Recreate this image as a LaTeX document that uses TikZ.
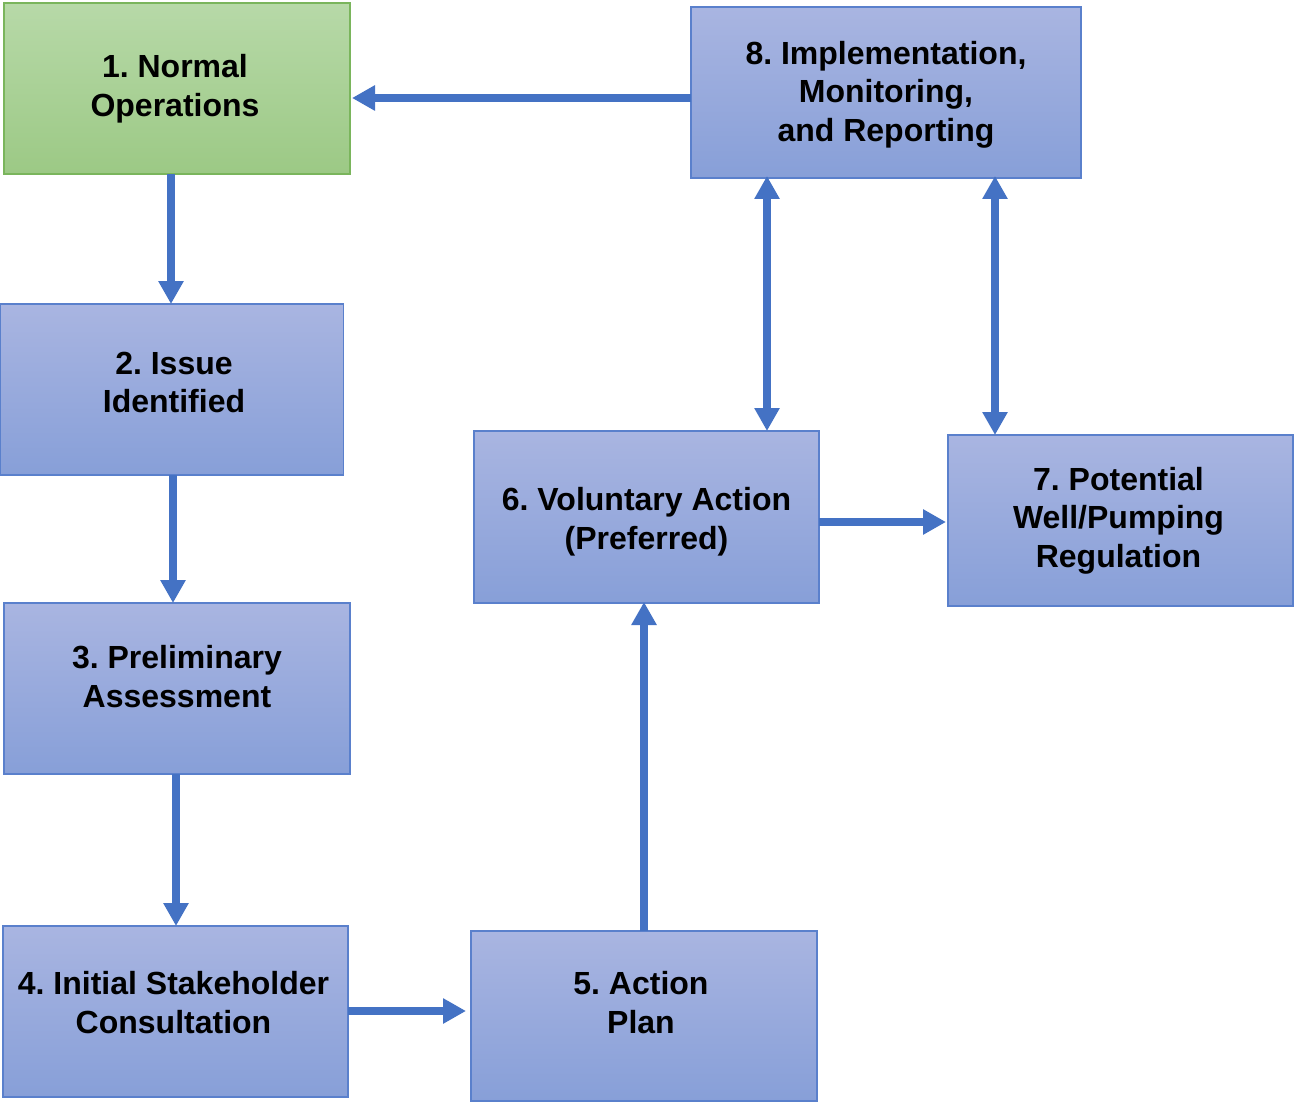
\documentclass[tikz,border=0pt]{standalone}
\usepackage{fontspec}
\setmainfont{Liberation Sans}
\usetikzlibrary{arrows.meta,calc}
\frenchspacing
\definecolor{arrblue}{HTML}{4472C4}
\definecolor{boxtop}{HTML}{A9B5E1}
\definecolor{boxbot}{HTML}{879FD8}
\definecolor{boxline}{HTML}{5A80CC}
\definecolor{grtop}{HTML}{B7D9A8}
\definecolor{grbot}{HTML}{9CC985}
\definecolor{grline}{HTML}{7AB55C}
\tikzset{
  box/.style={rectangle, draw=boxline, line width=1.3pt, top color=boxtop, bottom color=boxbot,
    minimum width=345pt, minimum height=171pt, inner sep=0pt, outer sep=0pt},
  greenbox/.style={box, draw=grline, top color=grtop, bottom color=grbot},
  txt/.style={font=\fontsize{32}{38.5}\selectfont\bfseries, align=center, text=black, inner sep=0pt},
  arr/.style={draw=arrblue, line width=7.5pt, -{Triangle[length=23pt,width=24pt]}},
  darr/.style={draw=arrblue, line width=7.5pt, {Triangle[length=23pt,width=24pt]}-{Triangle[length=23pt,width=24pt]}}
}
\begin{document}
\begin{tikzpicture}[x=1pt,y=-1pt]
\useasboundingbox (0,0) rectangle (1296,1102);
\node[greenbox, minimum width=346pt, label={[txt,yshift=0pt,xshift=-2pt]center:{1. Normal\\Operations}}] (n1) at (177,88.5) {};
\node[box, minimum width=390pt, label={[txt,yshift=-2pt]center:{8. Implementation,\\Monitoring,\\and Reporting}}] (n8) at (886,92.5) {};
\node[box, minimum width=343pt, label={[txt,yshift=7pt,xshift=2pt]center:{2. Issue\\Identified}}] (n2) at (172,389.5) {};
\node[box, minimum width=346pt, label={[txt,yshift=12pt]center:{3. Preliminary\\Assessment}}] (n3) at (177,688.5) {};
\node[box, minimum height=172pt, label={[txt,yshift=-4.5pt]center:{6. Voluntary Action\\(Preferred)}}] (n6) at (646.5,517) {};
\node[box, label={[txt,yshift=0pt,xshift=-2pt]center:{7. Potential\\Well/Pumping\\Regulation}}] (n7) at (1120.5,520.5) {};
\node[box, label={[txt,yshift=9pt,xshift=-2pt]center:{4. Initial Stakeholder\\Consultation}}] (n4) at (175.5,1011.5) {};
\node[box, minimum width=346pt, minimum height=170pt, label={[txt,yshift=13.5pt,xshift=-3pt]center:{5. Action\\Plan}}] (n5) at (644,1016) {};

\draw[arr] (n8.west |- 0,98) -- ([xshift=2pt]n1.east |- 0,98);
\draw[arr] (171,0 |- n1.south) -- (171,0 |- n2.north);
\draw[arr] (173,0 |- n2.south) -- (173,0 |- n3.north);
\draw[arr] (176,0 |- n3.south) -- (176,0 |- n4.north);
\draw[arr] (n4.east |- 0,1011) -- ([xshift=-5pt]n5.west |- 0,1011);
\draw[arr] (644,0 |- n5.north) -- ([yshift=1pt]644,0 |- n6.south);
\draw[arr] (n6.east |- 0,522) -- ([xshift=-2pt]n7.west |- 0,522);
\draw[darr] ([yshift=2pt]767,0 |- n8.south) -- (767,0 |- n6.north);
\draw[darr] ([yshift=2pt]995,0 |- n8.south) -- (995,0 |- n7.north);
\end{tikzpicture}
\end{document}
